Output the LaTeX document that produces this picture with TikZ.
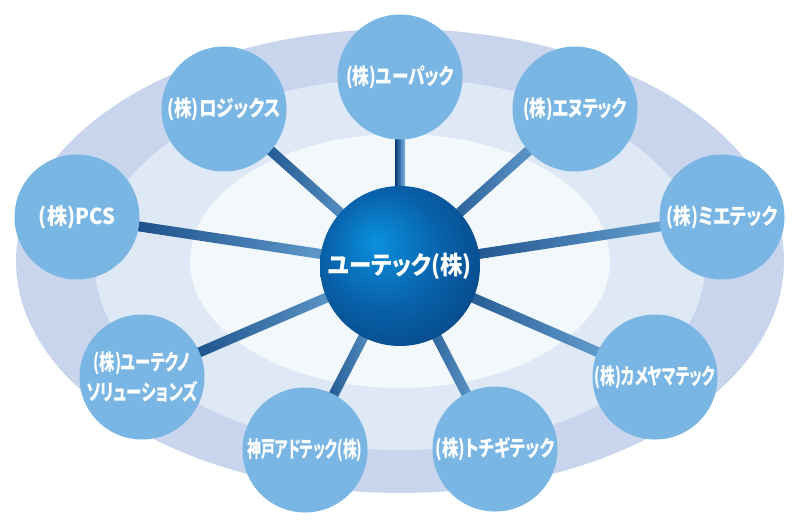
\documentclass[tikz,border=0pt]{standalone}
\usepackage{fontspec}
\newfontfamily\jpfont[FakeStretch=0.8, RawFeature=+palt]{Noto Sans CJK JP}
\newfontfamily\hubfont[FakeStretch=0.9, RawFeature=+palt]{Noto Sans CJK JP}
\usepackage{xcolor}
\usepackage{graphicx}
\usetikzlibrary{positioning, calc, backgrounds}
\definecolor{bandouter}{RGB}{200,213,236}
\definecolor{bandmid}{RGB}{223,232,245}
\definecolor{bandinner}{RGB}{243,248,253}
\definecolor{orbfill}{RGB}{122,182,228}
\definecolor{hublight}{RGB}{10,144,222}
\definecolor{hubmid}{RGB}{8,98,170}
\definecolor{hubdark}{RGB}{6,58,118}
\pgfdeclareradialshading{hubshade}{\pgfpoint{-8bp}{8bp}}{color(0bp)=(hublight); color(18bp)=(hubmid); color(40bp)=(hubdark); color(50bp)=(hubdark)}
\newcommand\squeeze[2]{\scalebox{#1}[1]{#2}}

\begin{document}
\begin{tikzpicture}[x=1pt, y=-1pt,
    company/.style={circle, fill=orbfill, minimum size=125pt, inner sep=-30pt, align=center, text=white, font=\jpfont\bfseries\fontsize{22}{30}\selectfont},
    spoke/.style={rectangle, inner sep=0pt, minimum height=10pt, left color=hubdark, right color=orbfill, sloped, allow upside down}]

      \useasboundingbox (0,0) rectangle (800,522);

      \begin{scope}[on background layer]
        \fill[bandouter] (400,261) ellipse [x radius=384pt, y radius=232pt];
        \fill[bandmid] (400,264) ellipse [x radius=305pt, y radius=186pt];
        \fill[bandinner] (400,261) ellipse [x radius=210pt, y radius=127pt];
      \end{scope}

      \node[company] (logix) at (224,109) {(株)ロジックス};
      \node[company] (upack) at (400,77) {\squeeze{0.95}{(株)ユーパック}};
      \node[company] (entec) at (575,109) {\squeeze{0.94}{(株)エヌテック}};
      \node[company] (pcs) at (77,217) {\squeeze{1.15}{(株)PCS}};
      \node[company] (mietec) at (722,217) {(株)ミエテック};
      \node[company] (utechno) at (142,377) {\squeeze{0.87}{(株)ユーテクノ}\\\squeeze{0.88}{ソリューションズ}};
      \node[company] (kameyama) at (655,377) {\squeeze{0.84}{(株)カメヤマテック}};
      \node[company] (kobe) at (305,450) {\squeeze{0.79}{神戸アドテック(株)}};
      \node[company] (tochigi) at (495,449) {\squeeze{0.94}{(株)トチギテック}};

      \node[circle, minimum size=160pt, inner sep=-30pt, shading=hubshade, text=white, font=\hubfont\bfseries\fontsize{25}{30}\selectfont] (hub) at (400,266) {ユーテック(株)};

      \begin{scope}[on background layer]
        \foreach \sat in {logix, upack, entec, pcs, mietec, utechno, kameyama, kobe, tochigi}
          \path let \p1=($(\sat.center)-(hub.center)$), \n1={veclen(\x1,\y1)} in
            (hub.center) -- (\sat.center) node[spoke, midway, minimum width=\n1] {};
      \end{scope}

    \end{tikzpicture}
\end{document}
